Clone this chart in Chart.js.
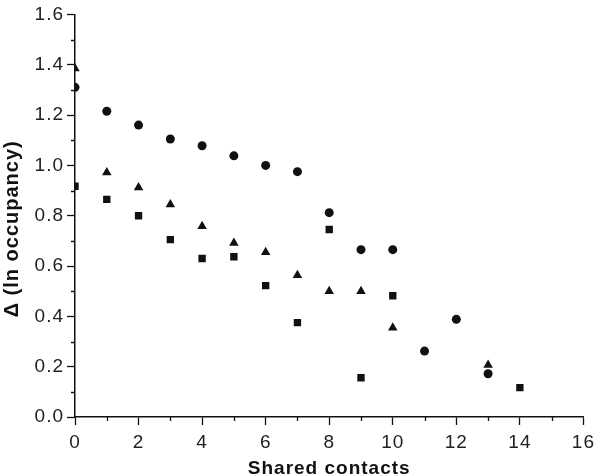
<!DOCTYPE html>
<html>
<head>
<meta charset="utf-8">
<script src="https://cdn.jsdelivr.net/npm/chart.js@4/dist/chart.umd.min.js"></script>
<style>
  html, body { margin: 0; padding: 0; background: #fff; }
  #wrap { width: 600px; height: 476px; }
</style>
</head>
<body>
<div id="wrap"><canvas id="myChart"></canvas></div>
<script>
// shared contacts (x) and delta ln occupancy (y) for each marker type
const circleX = [0, 1, 2, 3, 4, 5, 6, 7, 8, 9, 10, 11, 12, 13];
const circleY = [1.31, 1.215, 1.16, 1.105, 1.078, 1.038, 1.0, 0.975, 0.812, 0.665, 0.665, 0.262, 0.388, 0.172];

const triangleX = [0, 1, 2, 3, 4, 5, 6, 7, 8, 9, 10, 13];
const triangleY = [1.385, 0.972, 0.912, 0.845, 0.758, 0.692, 0.655, 0.563, 0.5, 0.5, 0.355, 0.207];

const squareX = [0, 1, 2, 3, 4, 5, 6, 7, 8, 9, 10, 14];
const squareY = [0.917, 0.865, 0.8, 0.705, 0.63, 0.637, 0.522, 0.375, 0.745, 0.156, 0.482, 0.117];

const xTicks = [0, 2, 4, 6, 8, 10, 12, 14, 16];
const yTicks = [0.0, 0.2, 0.4, 0.6, 0.8, 1.0, 1.2, 1.4, 1.6];

const xTitle = "Shared contacts";
// trailing spaces push the rotated title a little below the axis middle, as in the original
const yTitle = "\u0394 (ln occupancy)    ";

function pairs(xs, ys) {
    return xs.map((x, i) => ({ x: x, y: ys[i] }));
}

// short minor ticks halfway between the labelled ones
const minorTicks = {
    id: 'minorTicks',
    afterDraw(chart) {
        const ctx = chart.ctx;
        const xs = chart.scales.x, ys = chart.scales.y;
        ctx.save();
        ctx.strokeStyle = '#111';
        ctx.lineWidth = 1.3;
        ctx.beginPath();
        for (let i = 0; i < xTicks.length - 1; i++) {
            const px = Math.round(xs.getPixelForValue((xTicks[i] + xTicks[i + 1]) / 2)) + 0.5;
            ctx.moveTo(px, xs.top);
            ctx.lineTo(px, xs.top + 4);
        }
        for (let i = 0; i < yTicks.length - 1; i++) {
            const py = Math.round(ys.getPixelForValue((yTicks[i] + yTicks[i + 1]) / 2)) + 0.5;
            ctx.moveTo(ys.right, py);
            ctx.lineTo(ys.right - 4, py);
        }
        ctx.stroke();
        ctx.restore();
    }
};

const spacing = {
    id: 'spacing',
    beforeDraw(chart) { chart.ctx.letterSpacing = '1px'; }
};

var chart = new Chart("myChart", {
    type: "scatter",
    data: {
        datasets: [
            {
                data: pairs(circleX, circleY),
                pointStyle: 'circle',
                pointRadius: 4.5,
                backgroundColor: '#111',
                borderColor: '#111',
                borderWidth: 0
            },
            {
                data: pairs(triangleX, triangleY),
                pointStyle: 'triangle',
                pointRadius: 5.5,
                backgroundColor: '#111',
                borderColor: '#111',
                borderWidth: 0
            },
            {
                data: pairs(squareX, squareY),
                pointStyle: 'rect',
                pointRadius: 5.2,
                backgroundColor: '#111',
                borderColor: '#111',
                borderWidth: 0
            }
        ]
    },
    options: {
        responsive: true,
        maintainAspectRatio: false,
        animation: false,
        layout: { padding: { left: 0, right: 11, top: 12, bottom: 0 } },
        plugins: {
            legend: { display: false },
            tooltip: { enabled: false }
        },
        scales: {
            x: {
                type: 'linear',
                min: 0,
                max: 16,
                afterFit(scale) { scale.height = 59; },
                afterBuildTicks(scale) { scale.ticks = xTicks.map(v => ({ value: v })); },
                border: { display: true, color: '#111', width: 1.5 },
                grid: { drawOnChartArea: false, tickLength: 8, tickColor: '#111', tickWidth: 1.3 },
                ticks: { color: '#222', padding: 6, font: { family: 'Liberation Sans', size: 19 } },
                title: {
                    display: true,
                    text: xTitle,
                    color: '#111',
                    padding: { top: 0, bottom: 0 },
                    font: { family: 'Liberation Sans', size: 19, weight: 'bold', lineHeight: 0.8 }
                }
            },
            y: {
                type: 'linear',
                min: 0,
                max: 1.6,
                afterFit(scale) { scale.width = 75; },
                afterBuildTicks(scale) { scale.ticks = yTicks.map(v => ({ value: v })); },
                border: { display: true, color: '#111', width: 1.5 },
                grid: { drawOnChartArea: false, tickLength: 8, tickColor: '#111', tickWidth: 1.3 },
                ticks: {
                    color: '#222',
                    padding: 3,
                    font: { family: 'Liberation Sans', size: 19 },
                    callback: v => v.toFixed(1)
                },
                title: {
                    display: true,
                    text: yTitle,
                    color: '#111',
                    padding: { top: 0, bottom: 0 },
                    font: { family: 'Liberation Sans', size: 20, weight: 'bold' }
                }
            }
        }
    },
    plugins: [spacing, minorTicks]
});
</script>
</body>
</html>
